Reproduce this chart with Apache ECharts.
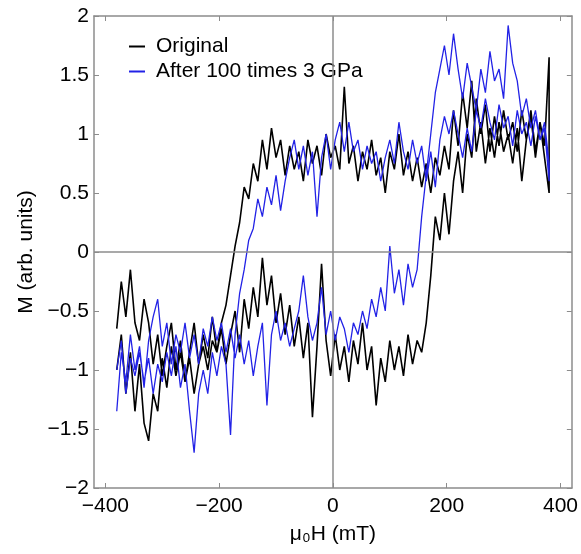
<!DOCTYPE html>
<html>
<head>
<meta charset="utf-8">
<script src="https://cdn.jsdelivr.net/npm/echarts@6/dist/echarts.min.js"></script>
<style>html,body{margin:0;padding:0;background:#fff;}#c{width:581px;height:554px;}</style>
</head>
<body>
<div id="c"></div>
<script>
// Applied field (mT), shared grid for all branches
var fieldH = [-380,-372,-364,-356,-348,-340,-332,-324,-316,-308,-300,-292,-284,-276,-268,-260,-252,-244,-236,-228,-220,-212,-204,-196,-188,-180,-172,-164,-156,-148,-140,-132,-124,-116,-108,-100,-92,-84,-76,-68,-60,-52,-44,-36,-28,-20,-12,-4,4,12,20,28,36,44,52,60,68,76,84,92,100,108,116,124,132,140,148,156,164,172,180,188,196,204,212,220,228,236,244,252,260,268,276,284,292,300,308,316,324,332,340,348,356,364,372,380];

// Original: ascending-field branch (lower) and descending-field branch (upper)
var originalUp = [-0.65,-0.25,-0.55,-0.15,-0.6,-0.75,-0.4,-0.6,-0.95,-0.7,-1.05,-0.8,-0.6,-1.0,-0.75,-1.1,-0.85,-0.6,-0.95,-0.7,-0.9,-0.55,-0.85,-0.65,-0.95,-0.7,-0.5,-0.85,-0.4,-0.65,-0.3,-0.55,-0.05,-0.45,-0.2,-0.6,-0.35,-0.7,-0.45,-0.8,-0.55,-0.9,-0.6,-1.4,-0.8,-0.1,-0.75,-1.05,-0.7,-1.0,-0.8,-1.1,-0.75,-0.95,-0.6,-1.0,-0.8,-1.3,-0.9,-1.1,-0.75,-1.0,-0.8,-1.05,-0.7,-0.95,-0.75,-0.85,-0.6,-0.2,0.3,0.1,0.5,0.15,0.6,0.85,0.5,1.0,0.8,1.3,1.0,1.25,0.85,1.15,0.9,1.2,0.95,1.1,0.85,1.2,0.95,1.15,0.8,1.1,0.9,1.65];
var originalDown = [-1.0,-0.7,-1.2,-0.85,-1.35,-0.95,-1.45,-1.6,-1.2,-1.35,-0.9,-1.15,-0.8,-1.05,-0.85,-1.1,-0.9,-1.2,-0.95,-0.8,-1.0,-0.75,-0.85,-0.6,-0.45,-0.2,0.05,0.25,0.55,0.45,0.75,0.6,0.95,0.7,1.05,0.8,0.95,0.65,0.9,0.7,0.85,0.6,0.95,0.75,0.9,0.65,1.0,0.8,0.9,0.7,1.4,0.75,0.9,0.6,0.85,0.7,0.95,0.65,0.8,0.5,0.85,0.7,1.0,0.65,0.85,0.6,0.8,0.55,0.75,0.5,0.8,0.65,0.9,0.7,1.2,0.9,1.35,1.05,1.45,0.85,1.1,0.75,1.05,0.8,1.1,0.85,1.0,0.75,1.05,0.6,0.95,1.2,0.85,1.1,0.8,0.5];

// After 100 times 3 GPa
var afterUp = [-1.35,-0.85,-1.1,-0.7,-1.0,-0.8,-1.15,-0.75,-0.55,-0.4,-0.8,-0.6,-0.95,-0.7,-0.85,-0.6,-0.9,-0.7,-0.95,-0.65,-0.8,-0.55,-0.75,-0.6,-0.85,-0.65,-0.9,-0.7,-0.95,-0.75,-1.05,-0.8,-0.6,-1.3,-0.7,-0.5,-0.75,-0.6,-0.8,-0.65,-0.5,-0.2,-0.55,-0.75,-0.6,-0.3,-0.7,-0.5,-0.75,-0.55,-0.65,-0.85,-0.6,-0.7,-0.5,-0.65,-0.4,-0.55,-0.3,-0.5,0.05,-0.35,-0.15,-0.45,-0.1,-0.3,-0.15,0.3,0.65,1.0,1.35,1.55,1.75,1.5,1.85,1.55,1.3,1.6,1.4,1.2,1.55,1.35,1.7,1.45,1.55,1.3,1.92,1.6,1.45,1.15,1.3,1.05,1.2,0.95,1.1,0.75];
var afterDown = [-1.0,-0.75,-1.2,-0.9,-1.05,-0.85,-1.1,-0.9,-1.2,-0.95,-1.1,-0.85,-1.05,-0.8,-1.15,-0.95,-1.35,-1.7,-1.2,-1.0,-1.2,-0.85,-1.05,-0.8,-0.95,-1.55,-0.7,-0.35,-0.15,0.1,0.2,0.45,0.3,0.55,0.4,0.65,0.35,0.6,0.8,0.95,0.7,0.9,0.65,0.85,0.3,0.8,1.0,0.7,0.95,1.1,0.85,1.1,0.85,0.95,0.7,0.9,0.75,0.85,0.6,0.8,0.95,0.75,1.1,0.85,0.7,0.95,0.75,0.9,0.6,0.85,0.55,0.95,1.15,1.0,1.2,1.0,0.8,1.05,0.85,1.2,1.05,1.3,1.1,0.95,1.25,1.05,1.15,0.9,1.2,1.0,1.1,0.9,1.15,0.95,1.05,0.6];

var xTicks = [-400,-200,0,200,400];
var seriesNames = ['Original','After 100 times 3 GPa'];

function loop(up, down){
  var d = [];
  for (var i = 0; i < fieldH.length; i++) d.push([fieldH[i], up[i]]);
  for (var j = fieldH.length - 1; j >= 0; j--) d.push([fieldH[j], down[j]]);
  return d;
}
function fmt(v){ return String(v).replace('-', '\u2212'); }

var FONT = 'Liberation Sans, Arial, sans-serif';
var GRAY = '#8c8c8c';
var chart = echarts.init(document.getElementById('c'), null, {renderer:'canvas'});
chart.setOption({
  animation:false,
  backgroundColor:'#fff',
  grid:{left:94, right:9, top:16, bottom:66},
  legend:{
    data:seriesNames, orient:'vertical', left:124, top:31,
    itemWidth:16, itemHeight:2, itemGap:4, icon:'rect',
    textStyle:{fontFamily:FONT, fontSize:21, color:'#000', padding:[0,0,0,6]}
  },
  xAxis:[{
    type:'value', min:-420, max:420, position:'bottom',
    name:'\u03bc\u2080H (mT)', nameLocation:'middle', nameGap:36,
    nameTextStyle:{fontFamily:FONT, fontSize:21, color:'#000'},
    axisLine:{show:true, onZero:false, lineStyle:{color:GRAY, width:1.5}},
    axisTick:{show:true, inside:true, length:5, customValues:xTicks, lineStyle:{color:GRAY}},
    axisLabel:{customValues:xTicks, fontFamily:FONT, fontSize:21, color:'#000', margin:8, formatter:fmt},
    splitLine:{show:false}
  },{
    type:'value', min:-420, max:420, position:'top',
    axisLine:{show:true, onZero:false, lineStyle:{color:GRAY, width:1.5}},
    axisTick:{show:true, inside:true, length:5, customValues:xTicks, lineStyle:{color:GRAY}},
    axisLabel:{show:false}, splitLine:{show:false}
  }],
  yAxis:[{
    type:'value', min:-2, max:2, interval:0.5, position:'left',
    name:'M (arb. units)', nameLocation:'middle', nameGap:50,
    nameTextStyle:{fontFamily:FONT, fontSize:21, color:'#000'},
    axisLine:{show:true, onZero:false, lineStyle:{color:GRAY, width:1.5}},
    axisTick:{show:true, inside:true, length:5, lineStyle:{color:GRAY}},
    axisLabel:{fontFamily:FONT, fontSize:21, color:'#000', margin:5, formatter:fmt},
    splitLine:{show:false}
  },{
    type:'value', min:-2, max:2, interval:0.5, position:'right',
    axisLine:{show:true, onZero:false, lineStyle:{color:GRAY, width:1.5}},
    axisTick:{show:true, inside:true, length:5, lineStyle:{color:GRAY}},
    axisLabel:{show:false}, splitLine:{show:false}
  }],
  series:[{
    type:'line', name:'zero', data:[], z:1, silent:true,
    markLine:{silent:true, symbol:'none', label:{show:false},
      lineStyle:{color:GRAY, width:1.5, type:'solid'},
      data:[{yAxis:0},{xAxis:0}]}
  },{
    type:'line', name:seriesNames[0], data:loop(originalUp, originalDown), z:2,
    showSymbol:false, symbol:'none', color:'#000',
    lineStyle:{color:'#000', width:1.6}
  },{
    type:'line', name:seriesNames[1], data:loop(afterUp, afterDown), z:3,
    showSymbol:false, symbol:'none', color:'#2222e6',
    lineStyle:{color:'#2222e6', width:1.3}
  }]
});
</script>
</body>
</html>
